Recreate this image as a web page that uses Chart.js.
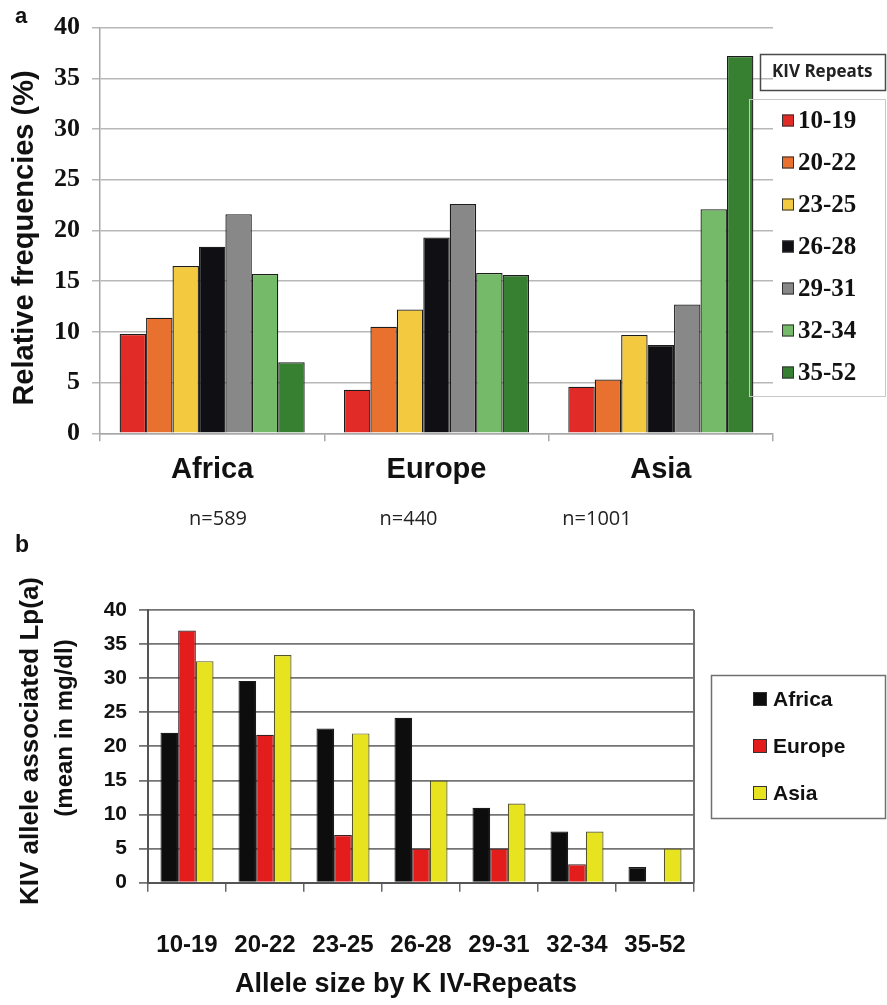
<!DOCTYPE html>
<html>
<head>
<meta charset="utf-8">
<script src="https://cdn.jsdelivr.net/npm/chart.js@4.4.1/dist/chart.umd.min.js"></script>
<style>
  html, body { margin: 0; padding: 0; background: #ffffff; width: 887px; height: 1005px; overflow: hidden; }
  .panel { position: absolute; left: 0; }
  #wrapA { top: 0; width: 887px; height: 540px; }
  #wrapB { top: 520px; width: 887px; height: 485px; }
</style>
</head>
<body>
<div id="wrapA" class="panel"><canvas id="chartA" width="887" height="540"></canvas></div>
<div id="wrapB" class="panel"><canvas id="chartB" width="887" height="485"></canvas></div>
<script>
// ---- Panel a: relative frequency (%) of KIV repeat classes by population ----
const regions = ['Africa', 'Europe', 'Asia'];
const sampleSizes = [589, 440, 1001];
const repeatClasses = ['10-19', '20-22', '23-25', '26-28', '29-31', '32-34', '35-52'];
const freqAfrica = [9.8, 11.4, 16.5, 18.4, 21.6, 15.7, 7.0];
const freqEurope = [4.3, 10.5, 12.2, 19.3, 22.6, 15.8, 15.6];
const freqAsia   = [4.6, 5.3, 9.7, 8.7, 12.7, 22.1, 37.2];
const freqTicks  = [0, 5, 10, 15, 20, 25, 30, 35, 40];

// ---- Panel b: mean Lp(a) (mg/dl) associated with each allele class ----
const alleleClasses = ['10-19', '20-22', '23-25', '26-28', '29-31', '32-34', '35-52'];
const populations = ['Africa', 'Europe', 'Asia'];
const lpaAfrica = [22.0, 29.6, 22.6, 24.2, 11.0, 7.5, 2.3];
const lpaEurope = [37.0, 21.7, 7.0, 5.0, 5.0, 2.7, null];
const lpaAsia   = [32.5, 33.4, 21.9, 15.0, 11.6, 7.5, 5.0];
const lpaTicks  = [0, 5, 10, 15, 20, 25, 30, 35, 40];

const classColors = ['#e12b27', '#e8712f', '#f3c93f', '#101014', '#888888', '#74ba69', '#377f31'];
const popColors = ['#0d0d0d', '#e31d1c', '#e7e31f'];

const SANS = "'Liberation Sans', Arial, sans-serif";
const SERIF = "'Liberation Serif', 'Times New Roman', serif";
const CAL = "'Open Sans', sans-serif";

// Text, legend and frame for panel a
const panelAExtras = {
  id: 'panelAExtras',
  afterDraw(chart) {
    const ctx = chart.ctx;
    const x = chart.scales.x;
    ctx.save();
    ctx.fillStyle = '#111';
    ctx.font = `bold 22px ${SANS}`;
    ctx.textAlign = 'left';
    ctx.textBaseline = 'alphabetic';
    ctx.fillText('a', 15, 23);

    // vertical axis title
    ctx.save();
    ctx.translate(33, 238);
    ctx.rotate(-Math.PI / 2);
    ctx.font = `bold 29px ${SANS}`;
    ctx.textAlign = 'center';
    ctx.textBaseline = 'alphabetic';
    ctx.fillText('Relative frequencies (%)', 0, 0);
    ctx.restore();

    // sample sizes under the region names
    const nPos = [218, 408.5, 597];
    ctx.font = `20px ${CAL}`;
    ctx.fillStyle = '#222';
    ctx.textAlign = 'center';
    ctx.textBaseline = 'middle';
    sampleSizes.forEach((n, i) => ctx.fillText('n=' + n, nPos[i], 519));

    // legend header box
    ctx.strokeStyle = '#4a4a4a';
    ctx.lineWidth = 1.5;
    ctx.strokeRect(760.5, 54.5, 125, 36);
    ctx.font = `bold 17px ${CAL}`;
    ctx.fillStyle = '#222';
    ctx.textAlign = 'left';
    ctx.fillText('KIV Repeats', 772, 72.5);

    // legend items
    ctx.strokeStyle = '#c8c8c8';
    ctx.lineWidth = 1;
    ctx.strokeRect(749.5, 99.5, 136, 297);
    ctx.font = `bold 25px ${SERIF}`;
    chart.data.datasets.forEach((ds, i) => {
      const cy = 120.5 + i * 42;
      ctx.fillStyle = ds.backgroundColor;
      ctx.fillRect(782, cy - 6, 12, 12);
      ctx.strokeStyle = '#333';
      ctx.lineWidth = 1;
      ctx.strokeRect(782.5, cy - 5.5, 11, 11);
      ctx.fillStyle = '#111';
      ctx.textBaseline = 'middle';
      ctx.fillText(ds.label, 798, cy + 1);
    });
    ctx.restore();
  }
};

new Chart(document.getElementById('chartA'), {
  type: 'bar',
  data: {
    labels: regions,
    datasets: repeatClasses.map((c, i) => ({
      label: c,
      data: [freqAfrica[i], freqEurope[i], freqAsia[i]],
      backgroundColor: classColors[i],
      borderColor: '#1c1c1c',
      borderWidth: 1.3
    }))
  },
  options: {
    responsive: false,
    animation: false,
    layout: { padding: { top: 21, right: 114, left: 0, bottom: 0 } },
    plugins: { legend: { display: false }, tooltip: { enabled: false } },
    datasets: { bar: { barPercentage: 1, categoryPercentage: 0.825 } },
    scales: {
      x: {
        grid: { display: true, drawOnChartArea: false, offset: true, tickLength: 8, color: '#a8a8a8', lineWidth: 1.5 },
        border: { color: '#a8a8a8', width: 1.5 },
        ticks: { font: { family: SANS, weight: 'bold', size: 29 }, color: '#111', padding: 11 },
        afterFit(s) { s.height = 540 - 433.3; }
      },
      y: {
        min: 0, max: 40,
        afterBuildTicks(s) { s.ticks = freqTicks.map(v => ({ value: v })); },
        ticks: { font: { family: SERIF, weight: 'bold', size: 26 }, color: '#111', padding: 12 },
        grid: { color: '#b8b8b8', lineWidth: 1.5, tickLength: 8 },
        border: { color: '#a8a8a8', width: 1.5 },
        afterFit(s) { s.width = 100; }
      }
    }
  },
  plugins: [panelAExtras]
});

// Text, legend and frame for panel b
const panelBExtras = {
  id: 'panelBExtras',
  afterDraw(chart) {
    const ctx = chart.ctx;
    const a = chart.chartArea;
    ctx.save();
    // plot frame on the right side
    ctx.strokeStyle = '#707070';
    ctx.lineWidth = 2;
    ctx.beginPath();
    ctx.moveTo(a.right, a.top);
    ctx.lineTo(a.right, a.bottom);
    ctx.stroke();

    ctx.fillStyle = '#111';
    ctx.font = `bold 23px ${SANS}`;
    ctx.textAlign = 'left';
    ctx.textBaseline = 'alphabetic';
    ctx.fillText('b', 15, 32);

    // vertical axis title (two lines)
    ctx.save();
    ctx.translate(38, 221);
    ctx.rotate(-Math.PI / 2);
    ctx.font = `bold 26px ${SANS}`;
    ctx.textAlign = 'center';
    ctx.fillText('KIV allele associated Lp(a)', 0, 0);
    ctx.restore();
    ctx.save();
    ctx.translate(72, 208);
    ctx.rotate(-Math.PI / 2);
    ctx.font = `bold 24px ${SANS}`;
    ctx.textAlign = 'center';
    ctx.fillText('(mean in mg/dl)', 0, 0);
    ctx.restore();

    // horizontal axis title
    ctx.font = `bold 27px ${SANS}`;
    ctx.textAlign = 'center';
    ctx.textBaseline = 'middle';
    ctx.fillText('Allele size by K IV-Repeats', 406, 465);

    // legend
    ctx.strokeStyle = '#707070';
    ctx.lineWidth = 1.5;
    ctx.strokeRect(711.5, 155.5, 174, 143);
    ctx.font = `bold 21px ${SANS}`;
    ctx.textAlign = 'left';
    chart.data.datasets.forEach((ds, i) => {
      const cy = 179 + i * 47;
      ctx.fillStyle = ds.backgroundColor;
      ctx.fillRect(753, cy - 7, 14, 14);
      ctx.strokeStyle = '#333';
      ctx.lineWidth = 1;
      ctx.strokeRect(753.5, cy - 6.5, 13, 13);
      ctx.fillStyle = '#111';
      ctx.textBaseline = 'middle';
      ctx.fillText(ds.label, 773, cy + 1);
    });
    ctx.restore();
  }
};

new Chart(document.getElementById('chartB'), {
  type: 'bar',
  data: {
    labels: alleleClasses,
    datasets: [
      { label: populations[0], data: lpaAfrica, backgroundColor: popColors[0], borderColor: '#1a1a1a', borderWidth: 1.2 },
      { label: populations[1], data: lpaEurope, backgroundColor: popColors[1], borderColor: '#3a2020', borderWidth: 1.2 },
      { label: populations[2], data: lpaAsia,   backgroundColor: popColors[2], borderColor: '#55552a', borderWidth: 1.2 }
    ]
  },
  options: {
    responsive: false,
    animation: false,
    layout: { padding: { top: 90, right: 193, left: 0, bottom: 0 } },
    plugins: { legend: { display: false }, tooltip: { enabled: false } },
    datasets: { bar: { barPercentage: 1, categoryPercentage: 0.68 } },
    scales: {
      x: {
        grid: { display: true, drawOnChartArea: false, offset: true, tickLength: 9, color: '#666', lineWidth: 1.5 },
        border: { color: '#555', width: 2 },
        ticks: { font: { family: SANS, weight: 'bold', size: 24 }, color: '#111', padding: 39 },
        afterFit(s) { s.height = 485 - 362.7; }
      },
      y: {
        min: 0, max: 40,
        afterBuildTicks(s) { s.ticks = lpaTicks.map(v => ({ value: v })); },
        ticks: { font: { family: SANS, weight: 'bold', size: 21 }, color: '#111', padding: 12 },
        grid: { color: '#747474', lineWidth: 1.8, tickLength: 9 },
        border: { color: '#555', width: 2 },
        afterFit(s) { s.width = 148; }
      }
    }
  },
  plugins: [panelBExtras]
});
</script>
</body>
</html>
